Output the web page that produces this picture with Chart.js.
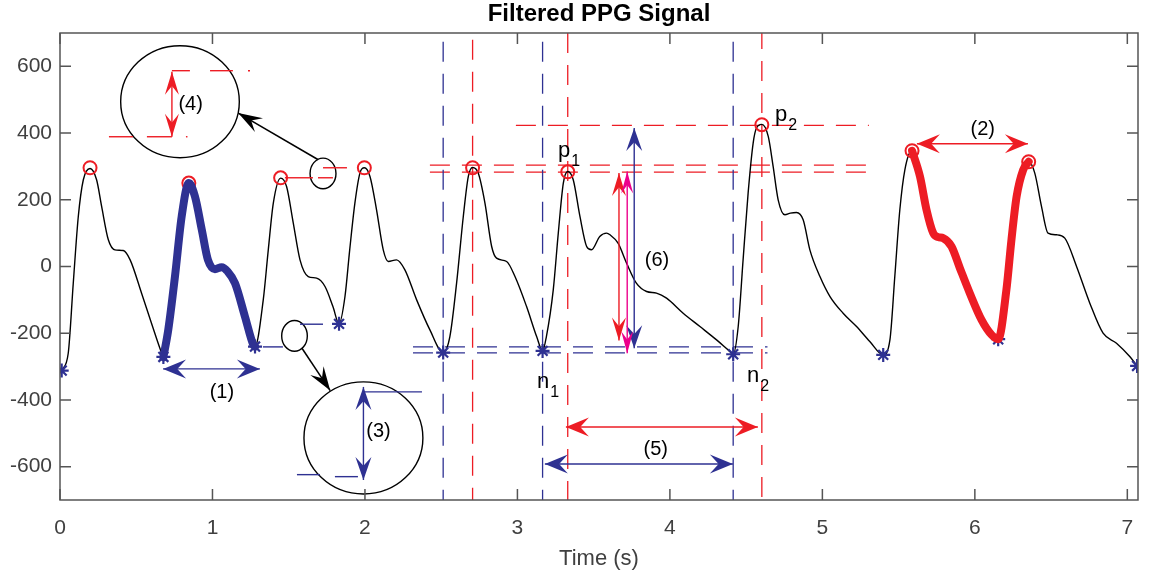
<!DOCTYPE html>
<html lang="en">
  <head>
    <meta charset="UTF-8" />
    <title>Filtered PPG Signal</title>
    <script src="https://cdn.jsdelivr.net/npm/chart.js"></script>
    <style>
      body { margin: 0; background: #fff; }
      #wrap { width: 1150px; height: 577px; }
    </style>
  </head>
  <body>
    <div id="wrap"><canvas id="ppgChart"></canvas></div>

    <script>
      // filtered PPG trace (time in s, amplitude)
      const timeS = [0.011, 0.054, 0.087, 0.12, 0.153, 0.197, 0.24, 0.273, 0.317, 0.36, 0.415, 0.46, 0.535, 0.6, 0.667, 0.678,
        0.71, 0.754, 0.798, 0.845, 0.885, 0.93, 0.97, 1.016, 1.06, 1.1, 1.148, 1.213, 1.268, 1.279,
        1.333, 1.366, 1.399, 1.447, 1.486, 1.53, 1.574, 1.628, 1.683, 1.738, 1.79, 1.83,
        1.869, 1.9, 1.934, 1.967, 1.996, 2.033, 2.076, 2.12, 2.153, 2.207, 2.262, 2.339, 2.426, 2.513,
        2.557, 2.601, 2.645, 2.678, 2.706, 2.743, 2.787, 2.831, 2.863, 2.929, 2.984, 3.06, 3.126, 3.165,
        3.19, 3.235, 3.268, 3.301, 3.33, 3.366, 3.41, 3.454, 3.486, 3.54, 3.585, 3.607, 3.66, 3.716, 3.78, 3.847, 3.912, 3.978, 4.087, 4.197, 4.306, 4.382, 4.415,
        4.448, 4.48, 4.513, 4.546, 4.568, 4.603, 4.645, 4.677, 4.71, 4.754, 4.79, 4.83, 4.874, 4.918, 4.984, 5.05, 5.136, 5.224, 5.311, 5.399,
        5.443, 5.475, 5.508, 5.541, 5.588, 5.64, 5.683, 5.727, 5.76, 5.792, 5.847, 5.902, 5.967, 6.044, 6.11, 6.153,
        6.207, 6.24, 6.274, 6.317, 6.353, 6.393, 6.437, 6.48, 6.536, 6.59, 6.667, 6.754, 6.841, 6.929, 7.016, 7.064];
      const ppg = [-312, -260, -50, 150, 260, 294, 260, 180, 80, 50, 48, 20, -80, -170, -260, -272,
        -190, -30, 150, 250, 210, 110, 20, -8, -2, -15, -50, -150, -235, -240,
        -100, 50, 190, 265, 240, 130, 20, -30, -35, -60, -120, -172,
        -90, 50, 190, 280, 296, 270, 170, 50, 15, 20, -10, -100, -190, -258,
        -210, -50, 150, 270, 297, 280, 190, 60, 25, 15, -30, -120, -210, -253,
        -210, -70, 100, 250, 285, 260, 150, 60, 50, 90, 100, 95, 70, 10, -50, -75, -80, -95, -140, -180, -220, -250, -263,
        -180, 20, 220, 370, 415, 426, 390, 300, 200, 155, 160, 162, 140, 50, -30, -90, -140, -180, -225, -265,
        -220, -30, 170, 290, 347, 270, 170, 100, 88, 85, 60, -5, -80, -160, -205, -218,
        -70, 80, 210, 290, 314, 280, 180, 100, 95, 85, 0, -110, -200, -230, -270, -298];

      const peakT = [0.197, 0.845, 1.447, 1.996, 2.706, 3.33, 4.603, 5.588, 6.353];
      const peakV = [296, 250, 266, 296, 296, 284, 425, 347, 314];
      const troughT = [0.011, 0.678, 1.279, 1.83, 2.513, 3.165, 4.415, 5.399, 6.153, 7.064];
      const troughV = [-312, -271, -240, -172, -258, -253, -263, -265, -218, -298];

      // highlighted beats (time windows)
      const blueBeat = [0.678, 1.279];
      const redBeat = [5.588, 6.353];

      const xTicks = [0, 1, 2, 3, 4, 5, 6, 7];
      const yTicks = [-600, -400, -200, 0, 200, 400, 600];

      // dashed guide lines
      const blueVT = [2.513, 3.165, 4.415];
      const blueVTop = [674, 674, 674];
      const redVT = [2.706, 3.33, 4.603];
      const redVTop = [680, 700, 712];
      const redHV = [304, 283, 423];
      const redHFrom = [2.426, 2.426, 2.99];
      const redHTo = [5.305, 5.305, 5.305];
      const blueHV = [-241, -259];
      const blueHFrom = [2.315, 2.315];
      const blueHTo = [4.64, 4.64];

      // double arrows: t1, v1, t2, v2
      const arrowBlue = [[0.676, -307, 1.311, -307], [3.18, -592, 4.413, -592], [1.99, -361, 1.99, -640], [3.766, 415, 3.766, -245]];
      const arrowRed = [[5.62, 368, 6.348, 368], [3.318, -481, 4.577, -481], [3.666, 280, 3.666, -222], [0.734, 584, 0.734, 389]];
      const arrowMagenta = [[3.72, 285, 3.72, -260]];
      // callout arrows: from, to
      const calloutArrows = [[1.694, 320, 1.169, 460], [1.587, -245, 1.772, -372]];
      // callout ellipses: centre t, centre v, radius t, radius v
      const ellipses = [[0.787, 494, 0.389, 168], [1.725, 279, 0.085, 46], [1.99, -514, 0.39, 168], [1.538, -208, 0.084, 46]];
      // short magnified marks
      const redMarks = [[0.734, 587, 0.852, 587], [0.984, 587, 1.134, 587], [1.233, 587, 1.246, 587],
        [0.321, 389, 0.479, 389], [0.57, 389, 0.734, 389], [0.826, 389, 0.836, 389],
        [1.725, 296, 1.882, 296], [1.475, 266, 1.659, 266], [1.692, 266, 1.79, 266]];
      const blueMarks = [[1.331, -241, 1.462, -241], [1.574, -173, 1.725, -173], [2.0, -376, 2.374, -376],
        [1.554, -624, 1.705, -624], [1.803, -630, 1.954, -630]];

      const labelText = ['(1)', '(2)', '(3)', '(4)', '(5)', '(6)'];
      const labelT = [1.062, 6.052, 2.089, 0.857, 3.907, 3.915];
      const labelV = [-379, 410, -496, 485, -550, 17];
      const nameText = ['p', 'p', 'n', 'n'];
      const nameSub = ['1', '2', '1', '2'];
      const nameT = [3.266, 4.689, 3.128, 4.505];
      const nameV = [329, 437, -364, -346];

      const BLUE = '#2E3192', RED = '#ED1C24', MAGENTA = '#EC008C';

      const trace = timeS.map((t, i) => ({ x: t, y: ppg[i] }));
      const inWin = w => trace.filter(p => p.x >= w[0] && p.x <= w[1]);

      const dashed = (pts, color) => ({
        data: pts, borderColor: color, borderWidth: 1.3, borderDash: [20, 12],
        pointRadius: 0, showLine: true, fill: false, order: 4
      });
      const guideSets = [
        ...blueVT.map((t, i) => dashed([{ x: t, y: blueVTop[i] }, { x: t, y: -710 }], BLUE)),
        ...redVT.map((t, i) => dashed([{ x: t, y: redVTop[i] }, { x: t, y: -710 }], RED)),
        ...redHV.map((v, i) => dashed([{ x: redHFrom[i], y: v }, { x: redHTo[i], y: v }], RED)),
        ...blueHV.map((v, i) => dashed([{ x: blueHFrom[i], y: v }, { x: blueHTo[i], y: v }], BLUE))
      ];

      function arrowHead(ctx, x1, y1, x2, y2, len, half) {
        const a = Math.atan2(y2 - y1, x2 - x1);
        ctx.save();
        ctx.translate(x2, y2);
        ctx.rotate(a);
        ctx.beginPath();
        ctx.moveTo(0, 0);
        ctx.lineTo(-len, -half);
        ctx.lineTo(-len * 0.62, 0);
        ctx.lineTo(-len, half);
        ctx.closePath();
        ctx.fill();
        ctx.restore();
      }

      const annotations = {
        id: 'annotations',
        afterDatasetsDraw(chart) {
          const { ctx, scales: { x, y } } = chart;
          const px = t => x.getPixelForValue(t), py = v => y.getPixelForValue(v);
          ctx.save();
          ctx.lineCap = 'butt';

          // magnifier ellipses
          ctx.strokeStyle = '#000';
          ctx.lineWidth = 1.4;
          ellipses.forEach(e => {
            const cx = px(e[0]), cy = py(e[1]);
            ctx.beginPath();
            ctx.ellipse(cx, cy, Math.abs(px(e[0] + e[2]) - cx), Math.abs(py(e[1] + e[3]) - cy), 0, 0, Math.PI * 2);
            ctx.stroke();
          });

          const seg = (s, c, w) => {
            ctx.strokeStyle = c; ctx.lineWidth = w;
            ctx.beginPath(); ctx.moveTo(px(s[0]), py(s[1])); ctx.lineTo(px(s[2]), py(s[3])); ctx.stroke();
          };
          redMarks.forEach(s => seg(s, RED, 1.4));
          blueMarks.forEach(s => seg(s, BLUE, 1.4));

          const dbl = (s, c, len, half) => {
            seg(s, c, 1.4);
            ctx.fillStyle = c;
            const x1 = px(s[0]), y1 = py(s[1]), x2 = px(s[2]), y2 = py(s[3]);
            arrowHead(ctx, x1, y1, x2, y2, len, half);
            arrowHead(ctx, x2, y2, x1, y1, len, half);
          };
          arrowBlue.forEach((s, i) => dbl(s, BLUE, 23, i < 2 ? 9.5 : 8));
          arrowRed.forEach((s, i) => dbl(s, RED, 23, i < 2 ? 9.5 : 7));
          arrowMagenta.forEach(s => dbl(s, MAGENTA, 22, 6));

          calloutArrows.forEach(s => {
            seg(s, '#000', 1.5);
            ctx.fillStyle = '#000';
            arrowHead(ctx, px(s[0]), py(s[1]), px(s[2]), py(s[3]), 24, 8);
          });

          // text
          ctx.fillStyle = '#000';
          ctx.font = '20px "Liberation Sans", Arial, sans-serif';
          ctx.textAlign = 'center';
          ctx.textBaseline = 'middle';
          labelText.forEach((s, i) => ctx.fillText(s, px(labelT[i]), py(labelV[i])));
          ctx.textAlign = 'left';
          ctx.textBaseline = 'alphabetic';
          nameText.forEach((s, i) => {
            const bx = px(nameT[i]), by = py(nameV[i]);
            ctx.font = '22px "Liberation Sans", Arial, sans-serif';
            ctx.fillText(s, bx, by);
            const w = ctx.measureText(s).width;
            ctx.font = '16px "Liberation Sans", Arial, sans-serif';
            ctx.fillText(nameSub[i], bx + w + 1, by + 9);
          });
          ctx.restore();
        },
        afterDraw(chart) {
          const { ctx, chartArea: a, scales: { x, y } } = chart;
          ctx.save();
          ctx.strokeStyle = '#555';
          ctx.lineWidth = 1.5;
          ctx.strokeRect(a.left, a.top, a.right - a.left, a.bottom - a.top);
          ctx.beginPath();
          xTicks.forEach(t => {
            const p = x.getPixelForValue(t);
            ctx.moveTo(p, a.bottom); ctx.lineTo(p, a.bottom - 11);
            ctx.moveTo(p, a.top); ctx.lineTo(p, a.top + 11);
          });
          yTicks.forEach(v => {
            const p = y.getPixelForValue(v);
            ctx.moveTo(a.left, p); ctx.lineTo(a.left + 11, p);
            ctx.moveTo(a.right, p); ctx.lineTo(a.right - 11, p);
          });
          ctx.stroke();

          ctx.fillStyle = '#000';
          ctx.textAlign = 'center';
          ctx.textBaseline = 'middle';
          ctx.font = 'bold 24px "Liberation Sans", Arial, sans-serif';
          ctx.fillText('Filtered PPG Signal', (a.left + a.right) / 2, 14);
          ctx.fillStyle = '#404040';
          ctx.font = '22px "Liberation Sans", Arial, sans-serif';
          ctx.fillText('Time (s)', (a.left + a.right) / 2, 559);
          ctx.restore();
        }
      };

      new Chart(document.getElementById('ppgChart'), {
        type: 'scatter',
        data: {
          datasets: [
            { data: inWin(blueBeat), borderColor: BLUE, borderWidth: 8, showLine: true, pointRadius: 0,
              cubicInterpolationMode: 'monotone', borderCapStyle: 'round', borderJoinStyle: 'round', order: 0 },
            { data: inWin(redBeat), borderColor: RED, borderWidth: 8, showLine: true, pointRadius: 0,
              cubicInterpolationMode: 'monotone', borderCapStyle: 'round', borderJoinStyle: 'round', order: 0 },
            { data: peakT.map((t, i) => ({ x: t, y: peakV[i] })), pointStyle: 'circle', pointRadius: 6.5,
              pointBorderColor: RED, pointBackgroundColor: 'rgba(0,0,0,0)', pointBorderWidth: 2, showLine: false, order: 1 },
            { data: troughT.map((t, i) => ({ x: t, y: troughV[i] })), pointStyle: 'star', pointRadius: 7,
              pointBorderColor: BLUE, pointBackgroundColor: BLUE, pointBorderWidth: 2.2, showLine: false, order: 1 },
            { data: trace, borderColor: '#000', borderWidth: 1.4, showLine: true, pointRadius: 0,
              cubicInterpolationMode: 'monotone', order: 2 },
            ...guideSets
          ]
        },
        options: {
          responsive: true,
          maintainAspectRatio: false,
          animation: false,
          layout: { padding: { top: 33, right: 12, left: 0, bottom: 0 } },
          plugins: { legend: { display: false }, tooltip: { enabled: false } },
          scales: {
            x: {
              type: 'linear', min: 0, max: 7.07,
              grid: { display: false, drawTicks: false }, border: { display: false },
              afterBuildTicks: s => { s.ticks = xTicks.map(v => ({ value: v })); },
              afterFit: s => { s.height = 77; },
              ticks: { color: '#404040', padding: 16, maxRotation: 0, font: { family: '"Liberation Sans", Arial, sans-serif', size: 21 } }
            },
            y: {
              type: 'linear', min: -700, max: 700,
              grid: { display: false, drawTicks: false }, border: { display: false },
              afterBuildTicks: s => { s.ticks = yTicks.map(v => ({ value: v })); },
              afterFit: s => { s.width = 60; },
              ticks: { color: '#404040', padding: 8, font: { family: '"Liberation Sans", Arial, sans-serif', size: 21 } }
            }
          }
        },
        plugins: [annotations]
      });
    </script>
  </body>
</html>
